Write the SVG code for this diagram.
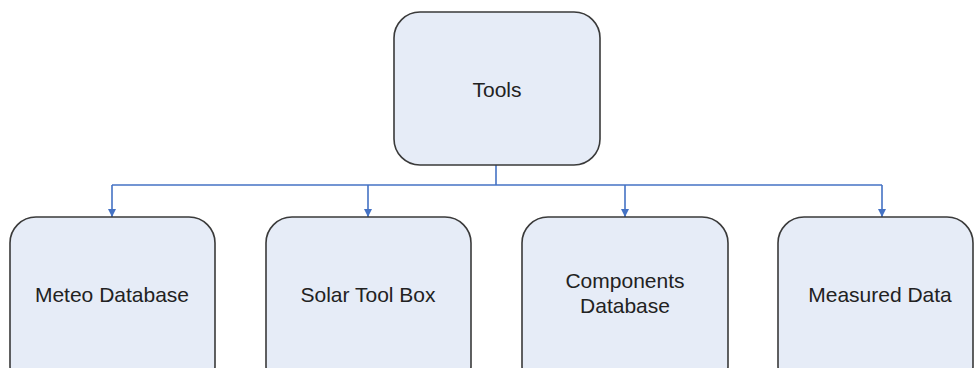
<svg xmlns="http://www.w3.org/2000/svg" width="974" height="368" viewBox="0 0 974 368">
<style>
.box{fill:#e6ecf7;stroke:#3a3a3a;stroke-width:1.6}
.lbl{font-family:"Liberation Sans",Arial,sans-serif;font-size:21px;fill:#222;text-anchor:middle}
.con{fill:none;stroke:#4472c4;stroke-width:1.6}
</style>
<defs>
<marker id="ah" viewBox="0 0 10 10" refX="10" refY="5" markerWidth="8" markerHeight="8" markerUnits="userSpaceOnUse" orient="auto">
<path d="M0,0 L10,5 L0,10 z" fill="#4472c4"/>
</marker>
</defs>
<g id="connectors">
<path class="con" d="M496,165 V185"/>
<path class="con" d="M112,185 H882"/>
<path class="con" d="M112,185 V217" marker-end="url(#ah)"/>
<path class="con" d="M368,185 V217" marker-end="url(#ah)"/>
<path class="con" d="M625,185 V217" marker-end="url(#ah)"/>
<path class="con" d="M882,185 V217" marker-end="url(#ah)"/>
</g>
<g id="tools">
<rect class="box" x="394" y="12" width="206" height="153" rx="26"/>
<text class="lbl" x="497" y="97">Tools</text>
</g>
<g id="meteo">
<rect class="box" x="10" y="217" width="205" height="175" rx="26"/>
<text class="lbl" x="112" y="302">Meteo Database</text>
</g>
<g id="solar">
<rect class="box" x="266" y="217" width="205" height="175" rx="26"/>
<text class="lbl" x="368" y="302">Solar Tool Box</text>
</g>
<g id="components">
<rect class="box" x="522" y="217" width="206" height="175" rx="26"/>
<text class="lbl" x="625" y="288">Components</text>
<text class="lbl" x="625" y="313">Database</text>
</g>
<g id="measured">
<rect class="box" x="778" y="217" width="195" height="175" rx="26"/>
<text class="lbl" x="880" y="302">Measured Data</text>
</g>
</svg>
